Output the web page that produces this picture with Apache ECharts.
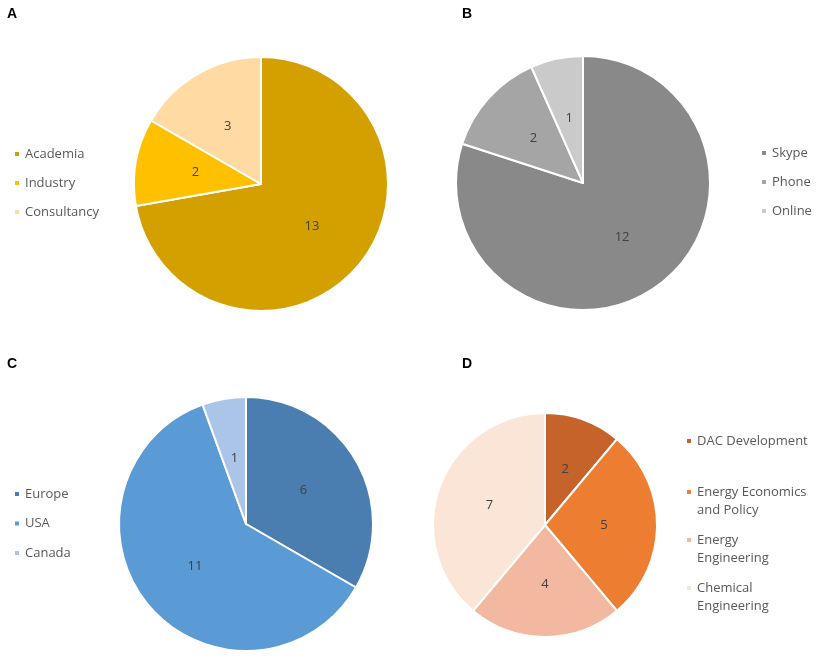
<!DOCTYPE html>
<html>
<head>
<meta charset="utf-8">
<script src="https://cdn.jsdelivr.net/npm/echarts@6/dist/echarts.min.js"></script>
<style>
  html, body { margin: 0; padding: 0; background: #fff; }
  #chart { width: 829px; height: 659px; }
</style>
</head>
<body>
<div id="chart"></div>
<script>
// panel A - affiliation
const namesA = ["Academia", "Industry", "Consultancy"];
const valuesA = [13, 2, 3];
const colorsA = ["#D3A000", "#FFC000", "#FFDAA3"];

// panel B - interview medium
const namesB = ["Skype", "Phone", "Online"];
const valuesB = [12, 2, 1];
const colorsB = ["#898989", "#A5A5A5", "#CACACA"];

// panel C - region
const namesC = ["Europe", "USA", "Canada"];
const valuesC = [6, 11, 1];
const colorsC = ["#4A7EB1", "#5B9BD5", "#ABC5E8"];

// panel D - field
const namesD = ["DAC Development", "Energy Economics and Policy", "Energy Engineering", "Chemical Engineering"];
const legendTextD = ["DAC Development", "Energy Economics\nand Policy", "Energy\nEngineering", "Chemical\nEngineering"];
const valuesD = [2, 5, 4, 7];
const colorsD = ["#C5632A", "#ED7D31", "#F3B8A0", "#FBE5D6"];

const panelLetters = ["A", "B", "C", "D"];

const chart = echarts.init(document.getElementById("chart"));

const font = "'Open Sans', sans-serif";

function pie(names, values, colors, center, radius) {
  return {
    type: "pie",
    center: center,
    radius: radius,
    startAngle: 90,
    clockwise: true,
    silent: true,
    itemStyle: { borderColor: "#fff", borderWidth: 2 },
    label: {
      show: true,
      position: "inside",
      formatter: "{c}",
      fontFamily: font,
      fontSize: 13,
      color: "#404040"
    },
    labelLine: { show: false },
    emphasis: { disabled: true },
    data: names.map((n, i) => ({ name: n, value: values[i], itemStyle: { color: colors[i] } }))
  };
}

function legend(names, left, top, gap) {
  return {
    orient: "vertical",
    left: left,
    top: top,
    padding: 0,
    itemGap: gap,
    itemWidth: 6,
    itemHeight: 6,
    icon: "rect",
    selectedMode: false,
    textStyle: { fontFamily: font, fontSize: 13, color: "#595959", lineHeight: 16 },
    data: names
  };
}

// panel D: one legend per item; a blank first line keeps the marker on the first text line
const legendsD = namesD.map((n, i) => {
  const multi = legendTextD[i].indexOf("\n") >= 0;
  return {
    orient: "vertical",
    left: 685,
    top: [432, 483, 531, 579][i] - (multi ? 18 : 0),
    padding: 0,
    itemWidth: 6,
    itemHeight: 6,
    icon: "rect",
    selectedMode: false,
    formatter: () => (multi ? "\n" : "") + legendTextD[i],
    textStyle: { fontFamily: font, fontSize: 13, color: "#595959", lineHeight: 18 },
    data: [n]
  };
});

const titlePos = [[7, 7], [462, 7], [7, 357], [462, 357]];

const option = {
  animation: false,
  backgroundColor: "#fff",
  title: panelLetters.map((t, i) => ({
    text: t,
    left: titlePos[i][0],
    top: titlePos[i][1],
    padding: 0,
    textStyle: { fontFamily: "Arial, 'Liberation Sans', sans-serif", fontWeight: "bold", fontSize: 14, color: "#000" }
  })),
  legend: [
    legend(namesA, 13, 146, 13),
    legend(namesB, 760, 145, 13),
    legend(namesC, 13, 486, 13.5)
  ].concat(legendsD),
  series: [
    pie(namesA, valuesA, colorsA, [261, 184], 127),
    pie(namesB, valuesB, colorsB, [583, 183], 127),
    pie(namesC, valuesC, colorsC, [246, 524], 127),
    pie(namesD, valuesD, colorsD, [545, 525], 112)
  ]
};

chart.setOption(option);
</script>
</body>
</html>
